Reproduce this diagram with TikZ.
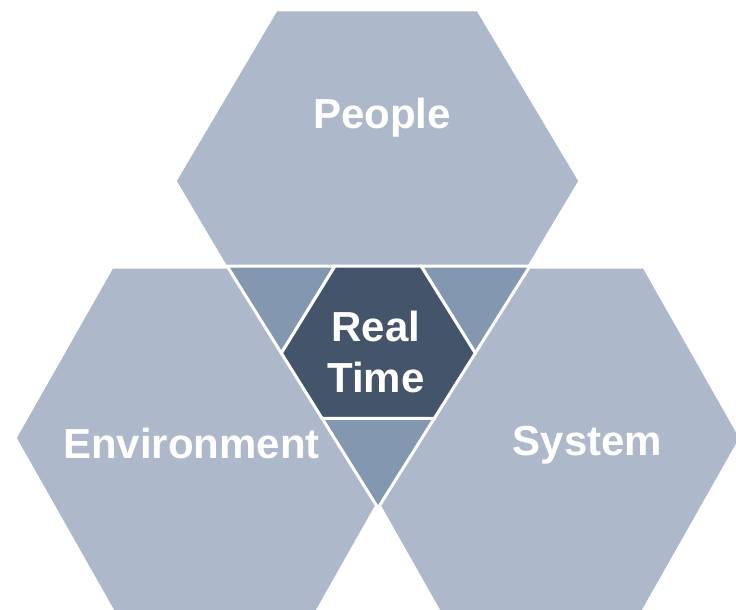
\documentclass[tikz,border=0pt]{standalone}
\usepackage{fontspec}
\setmainfont{Liberation Sans}
\usetikzlibrary{calc}
\definecolor{hexlight}{HTML}{ADB9CA}
\definecolor{hexmid}{HTML}{8497B0}
\definecolor{hexdark}{HTML}{44546A}
\tikzset{
  bighex/.style={fill=hexlight, draw=white, line width=3pt, line join=miter},
  corner/.style={fill=hexmid, draw=white, line width=3pt, line join=miter},
  core/.style={fill=hexdark, draw=white, line width=3pt, line join=miter},
  label/.style={text=white, font=\fontsize{42}{51}\selectfont\bfseries, inner sep=0pt},
}
\begin{document}
\begin{tikzpicture}[x=1pt,y=-1pt]
\useasboundingbox (0,0) rectangle (736,610);
\clip (0,0) rectangle (736,610);
% big hexagons
\path[bighex] (276,10) -- (478,10) -- (580,181) -- (478,352) -- (276,352) -- (175,181) -- cycle;
\path[bighex] (112,267) -- (318,267) -- (415,438) -- (312,620) -- (118,620) -- (15,438) -- cycle;
\path[bighex] (438,267) -- (644,267) -- (741,438) -- (638,620) -- (444,620) -- (341,438) -- cycle;
% central inverted triangle, cut in pieces
\coordinate (A) at (227,266);
\coordinate (B) at (530,266);
\coordinate (C) at (378,508);
\coordinate (T1) at (335,266);
\coordinate (T2) at (421,266);
\coordinate (L1) at ($(A)!0.36!(C)$);
\coordinate (R1) at ($(B)!0.36!(C)$);
\coordinate (L2) at ($(A)!0.63!(C)$);
\coordinate (R2) at ($(B)!0.63!(C)$);
\path[corner] (A) -- (T1) -- (L1) -- cycle;
\path[corner] (T2) -- (B) -- (R1) -- cycle;
\path[corner] (L2) -- (R2) -- (C) -- cycle;
\path[core] (T1) -- (T2) -- (R1) -- (R2) -- (L2) -- (L1) -- cycle;
% labels
\node[label, anchor=base] (people) at (382,128) {People};
\node[label, anchor=base] (environment) at (191.5,458) {Environment};
\node[label, anchor=base] (system) at (587.5,455) {System};
\node[label, anchor=center, align=center] (realtime) at (376,351.5) {Real\\Time};
\end{tikzpicture}
\end{document}
